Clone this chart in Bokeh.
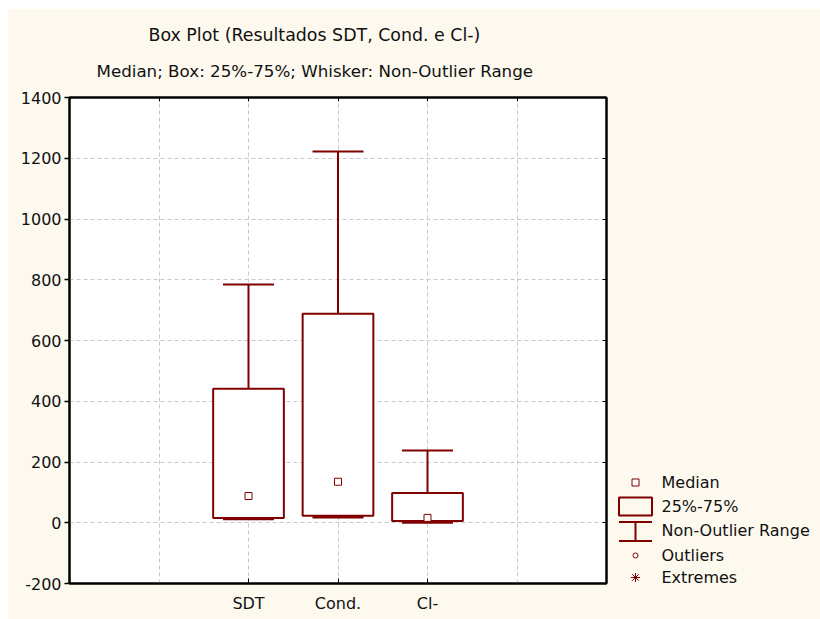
import numpy as np
from bokeh.plotting import figure
from bokeh.layouts import row
from bokeh.models import (FixedTicker, LinearAxis, Range1d, Title)
from bokeh.core.properties import value
from bokeh.embed import file_html
from bokeh.resources import INLINE

# ---- data ----
categories = ["SDT", "Cond.", "Cl-"]
positions = [2, 3, 4]
q1 = [16, 23, 6]
q3 = [441, 688, 98]
medians = [88, 135, 16]
whisker_low = [13, 19, 2]
whisker_high = [784, 1222, 238]
y_ticks = [-200, 0, 200, 400, 600, 800, 1000, 1200, 1400]
y_tick_labels = ["-200", "0", "200", "400", "600", "800", "1000", "1200", "1400"]
x_grid = [1, 2, 3, 4, 5]
legend_labels = ["Median", "25%-75%", "Non-Outlier Range", "Outliers", "Extremes"]

DARK = "#800000"
CREAM = "#fdf9ef"
FONT = "DejaVu Sans"
TXT = "#111111"

LB, FW, RB = 61, 537, 6
p = figure(frame_width=FW, frame_height=486,
           x_range=Range1d(0, 6), y_range=Range1d(-200, 1400),
           output_backend="svg", toolbar_location=None,
           min_border_left=LB, min_border_right=RB,
           min_border_top=88, min_border_bottom=36,
           x_axis_location=None, y_axis_location=None)
p.border_fill_color = CREAM
p.background_fill_color = "white"
p.outline_line_color = "black"
p.outline_line_width = 2

# axes
left = LinearAxis(ticker=FixedTicker(ticks=y_ticks))
left.major_label_overrides = {t: s for t, s in zip(y_ticks, y_tick_labels)}
left.major_tick_out = 5
left.major_tick_in = 0
left.minor_tick_out = 0
left.minor_tick_in = 0
left.axis_line_width = 2
left.major_tick_line_width = 1.5
left.major_label_standoff = 3
left.major_label_text_font = FONT
left.major_label_text_font_size = "16px"
left.major_label_text_color = TXT
p.add_layout(left, "left")

right = LinearAxis(ticker=FixedTicker(ticks=y_ticks))
right.major_label_overrides = {t: "" for t in y_ticks}
right.major_tick_out = 0
right.major_tick_in = 4
right.minor_tick_out = 0
right.minor_tick_in = 0
right.axis_line_width = 2
right.major_label_standoff = 0
p.add_layout(right, "right")

bottom = LinearAxis(ticker=FixedTicker(ticks=positions))
bottom.major_label_overrides = {pos: lab for pos, lab in zip(positions, categories)}
bottom.major_tick_out = 0
bottom.major_tick_in = 5
bottom.minor_tick_out = 0
bottom.minor_tick_in = 0
bottom.axis_line_width = 2
bottom.major_label_standoff = 10
bottom.major_label_text_font = FONT
bottom.major_label_text_font_size = "16px"
bottom.major_label_text_color = TXT
p.add_layout(bottom, "below")

top = LinearAxis(ticker=FixedTicker(ticks=x_grid))
top.major_label_overrides = {t: "" for t in x_grid}
top.major_tick_out = 0
top.major_tick_in = 4
top.minor_tick_out = 0
top.minor_tick_in = 0
top.axis_line_width = 2
top.major_label_standoff = 0
p.add_layout(top, "above")

# titles (subtitle first: closest to the frame)
sub = Title(text="Median; Box: 25%-75%; Whisker: Non-Outlier Range", align="left",
            offset=27, text_font=FONT, text_font_size="16.7px", text_font_style="normal",
            text_color=TXT, standoff=33)
p.add_layout(sub, "above")
ttl = Title(text="Box Plot (Resultados SDT, Cond. e Cl-)", align="left",
            offset=79, text_font=FONT, text_font_size="17.4px", text_font_style="normal",
            text_color=TXT, standoff=-5)
p.add_layout(ttl, "above")

# grid
p.xgrid.ticker = FixedTicker(ticks=x_grid)
p.ygrid.ticker = FixedTicker(ticks=y_ticks)
for g in (p.xgrid, p.ygrid):
    g.grid_line_color = "#c8c8c8"
    g.grid_line_dash = "4 3"
    g.grid_line_width = 1

# box plot glyphs
pos = np.array(positions, dtype=float)
cap = 0.285
p.segment(x0=pos, y0=q3, x1=pos, y1=whisker_high, line_color=DARK, line_width=2)
p.segment(x0=pos, y0=q1, x1=pos, y1=whisker_low, line_color=DARK, line_width=2)
p.vbar(x=pos, bottom=q1, top=q3, width=0.79, fill_color="white",
       line_color=DARK, line_width=2)
p.segment(x0=pos - cap, y0=whisker_high, x1=pos + cap, y1=whisker_high,
          line_color=DARK, line_width=2)
p.segment(x0=pos - cap, y0=whisker_low, x1=pos + cap, y1=whisker_low,
          line_color=DARK, line_width=3)
p.scatter(x=pos, y=medians, marker="square", size=7, fill_color="white",
          line_color=DARK, line_width=1)

# ---- legend panel: a second figure; its frame is aligned with the main frame
# (page y 97..583), so its data units are page pixels ----
X0 = 8 + LB + FW + RB
LW = 820 - X0
lg = figure(width=LW, height=610, x_range=Range1d(X0, 820), y_range=Range1d(583, 97),
            output_backend="svg", toolbar_location=None,
            min_border=0, x_axis_location=None, y_axis_location=None)
lg.border_fill_color = CREAM
lg.background_fill_color = CREAM
lg.outline_line_color = None
lg.xgrid.visible = False
lg.ygrid.visible = False

sx = 635
row_y = [482, 505.5, 530, 555, 577]
lg.scatter(x=[sx], y=[row_y[0]], marker="square", size=7, fill_color="white",
           line_color=DARK, line_width=1)
lg.rect(x=[sx], y=[506], width=33, height=18, fill_alpha=0,
        line_color=DARK, line_width=2)
lg.segment(x0=[sx - 16.5, sx - 16.5, sx], y0=[521.5, 540.5, 521.5],
           x1=[sx + 16.5, sx + 16.5, sx], y1=[521.5, 540.5, 540.5],
           line_color=DARK, line_width=2)
lg.scatter(x=[sx], y=[row_y[3]], marker="circle", size=5, fill_color="white",
           line_color=DARK, line_width=1)
lg.scatter(x=[sx], y=[row_y[4]], marker="asterisk", size=9, line_color=DARK, line_width=1)
lg.text(x=[661] * len(legend_labels), y=row_y, text=legend_labels,
        text_font=value(FONT), text_font_size="16px", text_color=TXT,
        text_baseline="middle", text_align="left")

layout = row(p, lg, spacing=0, margin=(9, 0, 0, 8),
             styles={"background-color": CREAM})
open("out.html", "w").write(file_html(layout, INLINE))
